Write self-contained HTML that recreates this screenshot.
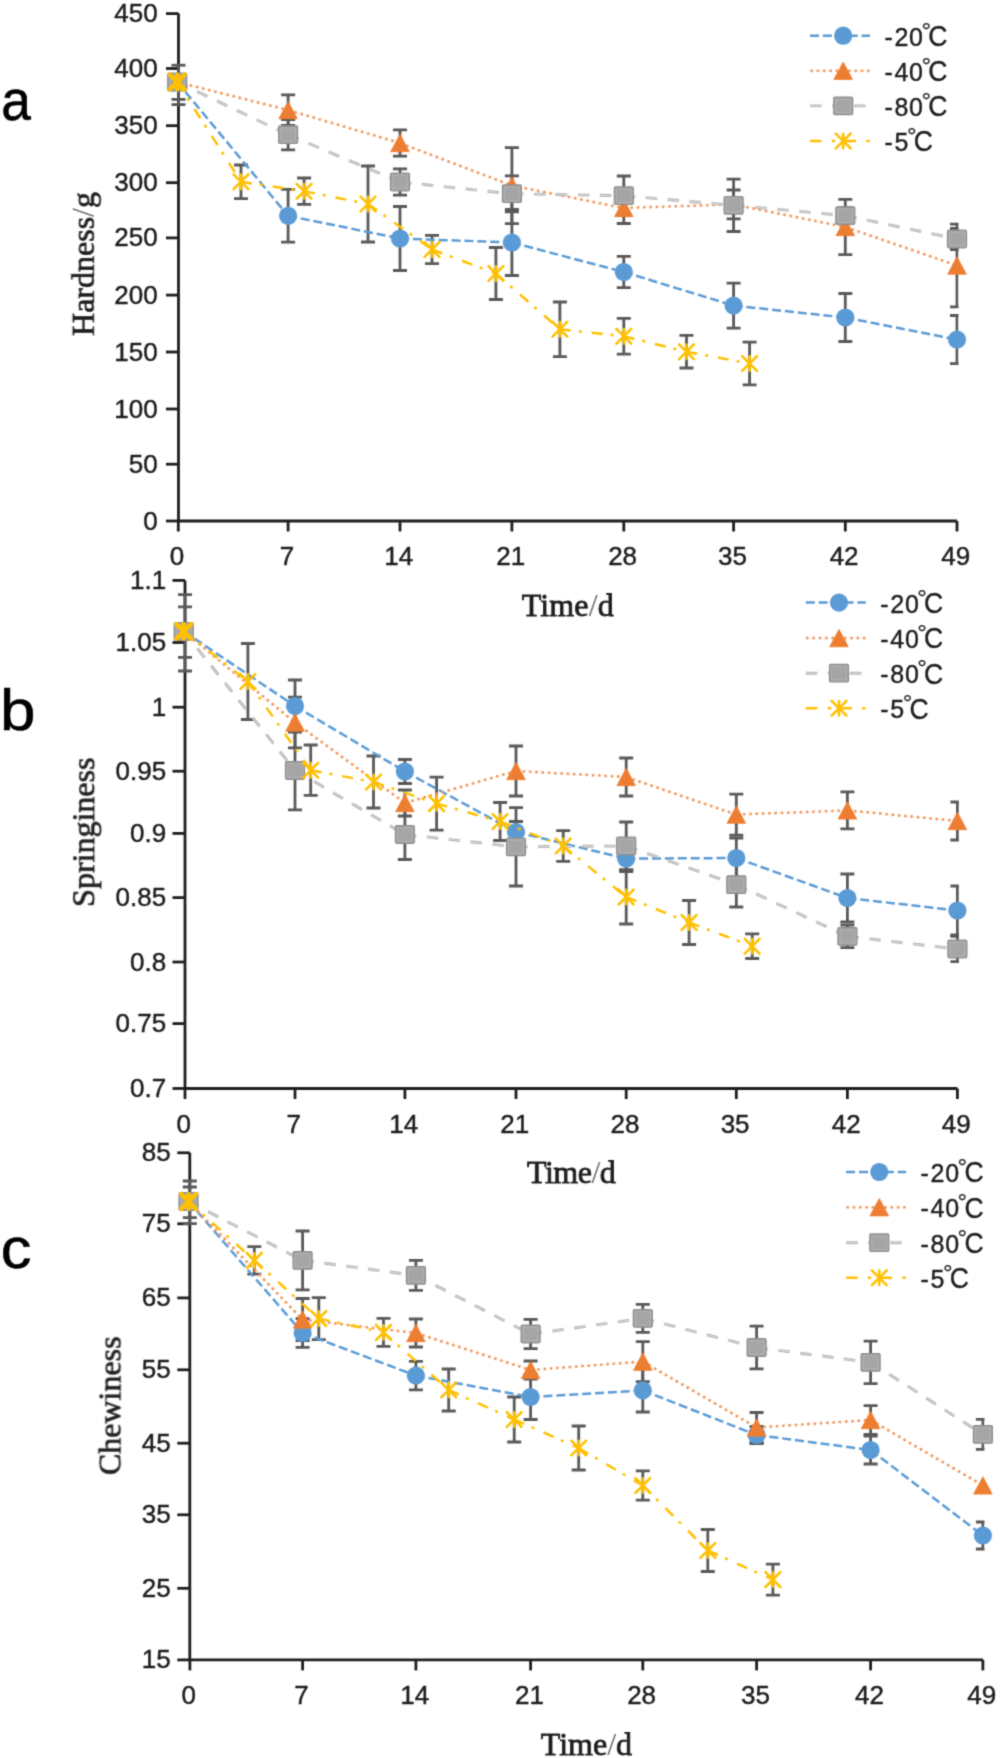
<!DOCTYPE html><html><head><meta charset="utf-8"><style>html,body{margin:0;padding:0;background:#fff;}svg{display:block;}</style></head><body><svg width="1000" height="1758" viewBox="0 0 1000 1758">
<defs><filter id="soft" x="0" y="0" width="1000" height="1758" filterUnits="userSpaceOnUse" color-interpolation-filters="sRGB"><feConvolveMatrix order="3" kernelMatrix="0.06218 0.24935 0.06218 0.24935 1.00000 0.24935 0.06218 0.24935 0.06218" divisor="2.24611" edgeMode="duplicate"/></filter></defs>
<rect width="1000" height="1758" fill="#fff"/>
<g filter="url(#soft)">
<clipPath id="clipa"><rect x="0" y="-26.4" width="958.5" height="587.4"/></clipPath>
<g stroke="#1e1e1e" stroke-width="2.8" fill="none">
<path d="M178.5,13.6 V521.0 H957.0"/>
<path d="M166.0,13.6 H178.5"/>
<path d="M166.0,68.5 H178.5"/>
<path d="M166.0,125.7 H178.5"/>
<path d="M166.0,182.7 H178.5"/>
<path d="M166.0,237.9 H178.5"/>
<path d="M166.0,295.1 H178.5"/>
<path d="M166.0,352.0 H178.5"/>
<path d="M166.0,409.0 H178.5"/>
<path d="M166.0,464.2 H178.5"/>
<path d="M166.0,521.0 H178.5"/>
<path d="M178.3,521.0 V531.5"/>
<path d="M288.1,521.0 V531.5"/>
<path d="M400.0,521.0 V531.5"/>
<path d="M511.9,521.0 V531.5"/>
<path d="M623.8,521.0 V531.5"/>
<path d="M733.6,521.0 V531.5"/>
<path d="M845.3,521.0 V531.5"/>
<path d="M957.0,521.0 V531.5"/>
</g>
<g font-family="Liberation Sans, sans-serif" font-size="26" fill="#1e1e1e" stroke="#1e1e1e" stroke-width="0.45">
<text x="157.7" y="22.1" text-anchor="end">450</text>
<text x="157.7" y="77.0" text-anchor="end">400</text>
<text x="157.7" y="134.2" text-anchor="end">350</text>
<text x="157.7" y="191.2" text-anchor="end">300</text>
<text x="157.7" y="246.4" text-anchor="end">250</text>
<text x="157.7" y="303.6" text-anchor="end">200</text>
<text x="157.7" y="360.5" text-anchor="end">150</text>
<text x="157.7" y="417.5" text-anchor="end">100</text>
<text x="157.7" y="472.7" text-anchor="end">50</text>
<text x="157.7" y="529.5" text-anchor="end">0</text>
<text x="177.1" y="565.3" text-anchor="middle">0</text>
<text x="286.9" y="565.3" text-anchor="middle">7</text>
<text x="398.8" y="565.3" text-anchor="middle">14</text>
<text x="510.7" y="565.3" text-anchor="middle">21</text>
<text x="622.6" y="565.3" text-anchor="middle">28</text>
<text x="732.4" y="565.3" text-anchor="middle">35</text>
<text x="844.1" y="565.3" text-anchor="middle">42</text>
<text x="955.8" y="565.3" text-anchor="middle">49</text>
</g>
<text x="567.8" y="616.2" text-anchor="middle" font-family="Liberation Serif, serif" font-size="32" fill="#1e1e1e" stroke="#1e1e1e" stroke-width="0.8" letter-spacing="0.15">Time<tspan fill="#6a6a6a" stroke="none">/</tspan>d</text>
<text transform="translate(93.8,264.0) rotate(-90)" text-anchor="middle" font-family="Liberation Serif, serif" font-size="32" fill="#1e1e1e" stroke="#1e1e1e" stroke-width="0.7">Hardness<tspan fill="#6a6a6a" stroke="none">/</tspan>g</text>
<text transform="translate(1.20,119.7) scale(0.92,1)" font-family="Liberation Sans, sans-serif" font-size="58" fill="#000" stroke="#000" stroke-width="0.6">a</text>
<g clip-path="url(#clipa)" stroke="#595959" stroke-width="2.8" fill="none">
<path d="M178.5,65.2 V104.6"/>
<path d="M171.5,65.2 H185.5"/>
<path d="M171.5,99.4 H185.5"/>
<path d="M171.5,104.6 H185.5"/>
<path d="M288.1,189.4 V242.2 M281.1,189.4 H295.1 M281.1,242.2 H295.1"/>
<path d="M400.0,206.5 V270.5 M393.0,206.5 H407.0 M393.0,270.5 H407.0"/>
<path d="M511.9,209.5 V275.5 M504.9,209.5 H518.9 M504.9,275.5 H518.9"/>
<path d="M623.8,256.4 V287.6 M616.8,256.4 H630.8 M616.8,287.6 H630.8"/>
<path d="M733.6,283.1 V328.1 M726.6,283.1 H740.6 M726.6,328.1 H740.6"/>
<path d="M845.3,293.5 V341.5 M838.3,293.5 H852.3 M838.3,341.5 H852.3"/>
<path d="M957.0,315.5 V363.7 M950.0,315.5 H964.0 M950.0,363.7 H964.0"/>
<path d="M288.1,94.8 V125.4 M281.1,94.8 H295.1 M281.1,125.4 H295.1"/>
<path d="M400.0,129.8 V156.2 M393.0,129.8 H407.0 M393.0,156.2 H407.0"/>
<path d="M511.9,147.6 V223.6 M504.9,147.6 H518.9 M504.9,223.6 H518.9"/>
<path d="M623.8,192.5 V223.5 M616.8,192.5 H630.8 M616.8,223.5 H630.8"/>
<path d="M733.6,190.0 V218.8 M726.6,190.0 H740.6 M726.6,218.8 H740.6"/>
<path d="M845.3,199.4 V254.6 M838.3,199.4 H852.3 M838.3,254.6 H852.3"/>
<path d="M957.0,224.2 V306.8 M950.0,224.2 H964.0 M950.0,306.8 H964.0"/>
<path d="M288.1,119.5 V149.9 M281.1,119.5 H295.1 M281.1,149.9 H295.1"/>
<path d="M400.0,168.8 V195.2 M393.0,168.8 H407.0 M393.0,195.2 H407.0"/>
<path d="M511.9,175.8 V211.8 M504.9,175.8 H518.9 M504.9,211.8 H518.9"/>
<path d="M623.8,176.0 V215.4 M616.8,176.0 H630.8 M616.8,215.4 H630.8"/>
<path d="M733.6,179.1 V231.5 M726.6,179.1 H740.6 M726.6,231.5 H740.6"/>
<path d="M845.3,207.6 V223.6 M838.3,207.6 H852.3 M838.3,223.6 H852.3"/>
<path d="M957.0,228.5 V249.5 M950.0,228.5 H964.0 M950.0,249.5 H964.0"/>
<path d="M241.0,165.0 V198.6 M234.0,165.0 H248.0 M234.0,198.6 H248.0"/>
<path d="M304.1,178.0 V204.4 M297.1,178.0 H311.1 M297.1,204.4 H311.1"/>
<path d="M368.0,166.0 V242.0 M361.0,166.0 H375.0 M361.0,242.0 H375.0"/>
<path d="M432.0,235.4 V263.6 M425.0,235.4 H439.0 M425.0,263.6 H439.0"/>
<path d="M495.9,247.5 V299.5 M488.9,247.5 H502.9 M488.9,299.5 H502.9"/>
<path d="M559.9,302.0 V356.6 M552.9,302.0 H566.9 M552.9,356.6 H566.9"/>
<path d="M623.8,318.4 V354.2 M616.8,318.4 H630.8 M616.8,354.2 H630.8"/>
<path d="M686.5,335.4 V368.0 M679.5,335.4 H693.5 M679.5,368.0 H693.5"/>
<path d="M749.6,342.2 V384.8 M742.6,342.2 H756.6 M742.6,384.8 H756.6"/>
</g>
<path d="M177.2,82.0 L288.1,215.8 M288.1,215.8 L400.0,238.5 M400.0,238.5 L511.9,242.5 M511.9,242.5 L623.8,272.0 M623.8,272.0 L733.6,305.6 M733.6,305.6 L845.3,317.5 M845.3,317.5 L957.0,339.6" fill="none" stroke="#5B9BD5" stroke-width="2.5" stroke-dasharray="9 3.9"/>
<circle cx="177.2" cy="82.0" r="9.1" fill="#5B9BD5"/>
<circle cx="288.1" cy="215.8" r="9.1" fill="#5B9BD5"/>
<circle cx="400.0" cy="238.5" r="9.1" fill="#5B9BD5"/>
<circle cx="511.9" cy="242.5" r="9.1" fill="#5B9BD5"/>
<circle cx="623.8" cy="272.0" r="9.1" fill="#5B9BD5"/>
<circle cx="733.6" cy="305.6" r="9.1" fill="#5B9BD5"/>
<circle cx="845.3" cy="317.5" r="9.1" fill="#5B9BD5"/>
<circle cx="957.0" cy="339.6" r="9.1" fill="#5B9BD5"/>
<path d="M177.2,82.0 L288.1,110.1 M288.1,110.1 L400.0,143.0 M400.0,143.0 L511.9,185.6 M511.9,185.6 L623.8,208.0 M623.8,208.0 L733.6,204.4 M733.6,204.4 L845.3,227.0 M845.3,227.0 L957.0,265.5" fill="none" stroke="#F29A60" stroke-width="3.0" stroke-dasharray="0.01 6.29" stroke-linecap="round" stroke-dashoffset="-1.6"/>
<path d="M177.2,73.3 L186.5,90.7 L167.9,90.7Z" fill="#ED7D31" stroke="#ED7D31" stroke-width="0.8" stroke-linejoin="round"/>
<path d="M288.1,101.4 L297.4,118.8 L278.8,118.8Z" fill="#ED7D31" stroke="#ED7D31" stroke-width="0.8" stroke-linejoin="round"/>
<path d="M400.0,134.3 L409.3,151.7 L390.7,151.7Z" fill="#ED7D31" stroke="#ED7D31" stroke-width="0.8" stroke-linejoin="round"/>
<path d="M511.9,176.9 L521.2,194.3 L502.6,194.3Z" fill="#ED7D31" stroke="#ED7D31" stroke-width="0.8" stroke-linejoin="round"/>
<path d="M623.8,199.3 L633.1,216.7 L614.5,216.7Z" fill="#ED7D31" stroke="#ED7D31" stroke-width="0.8" stroke-linejoin="round"/>
<path d="M733.6,195.7 L742.9,213.1 L724.3,213.1Z" fill="#ED7D31" stroke="#ED7D31" stroke-width="0.8" stroke-linejoin="round"/>
<path d="M845.3,218.3 L854.6,235.7 L836.0,235.7Z" fill="#ED7D31" stroke="#ED7D31" stroke-width="0.8" stroke-linejoin="round"/>
<path d="M957.0,256.8 L966.3,274.2 L947.7,274.2Z" fill="#ED7D31" stroke="#ED7D31" stroke-width="0.8" stroke-linejoin="round"/>
<path d="M177.2,82.0 L288.1,134.7 M288.1,134.7 L400.0,182.0 M400.0,182.0 L511.9,193.8 M511.9,193.8 L623.8,195.7 M623.8,195.7 L733.6,205.3 M733.6,205.3 L845.3,215.6 M845.3,215.6 L957.0,239.0" fill="none" stroke="#b2b2b2" stroke-width="2.9" stroke-dasharray="11.5 10.5"/><path d="M177.2,82.0 L288.1,134.7 M288.1,134.7 L400.0,182.0 M400.0,182.0 L511.9,193.8 M511.9,193.8 L623.8,195.7 M623.8,195.7 L733.6,205.3 M733.6,205.3 L845.3,215.6 M845.3,215.6 L957.0,239.0" fill="none" stroke="#dedede" stroke-width="1.0" stroke-dasharray="11.5 10.5"/>
<rect x="167.7" y="73.2" width="19.0" height="17.6" rx="1.2" fill="#A5A5A5" stroke="#8e8e8e" stroke-width="1.2"/><rect x="169.9" y="75.4" width="14.6" height="13.2" fill="none" stroke="#b4b4b4" stroke-width="0.8"/>
<rect x="278.6" y="125.9" width="19.0" height="17.6" rx="1.2" fill="#A5A5A5" stroke="#8e8e8e" stroke-width="1.2"/><rect x="280.8" y="128.1" width="14.6" height="13.2" fill="none" stroke="#b4b4b4" stroke-width="0.8"/>
<rect x="390.5" y="173.2" width="19.0" height="17.6" rx="1.2" fill="#A5A5A5" stroke="#8e8e8e" stroke-width="1.2"/><rect x="392.7" y="175.4" width="14.6" height="13.2" fill="none" stroke="#b4b4b4" stroke-width="0.8"/>
<rect x="502.4" y="184.9" width="19.0" height="17.6" rx="1.2" fill="#A5A5A5" stroke="#8e8e8e" stroke-width="1.2"/><rect x="504.6" y="187.1" width="14.6" height="13.2" fill="none" stroke="#b4b4b4" stroke-width="0.8"/>
<rect x="614.3" y="186.9" width="19.0" height="17.6" rx="1.2" fill="#A5A5A5" stroke="#8e8e8e" stroke-width="1.2"/><rect x="616.5" y="189.1" width="14.6" height="13.2" fill="none" stroke="#b4b4b4" stroke-width="0.8"/>
<rect x="724.1" y="196.5" width="19.0" height="17.6" rx="1.2" fill="#A5A5A5" stroke="#8e8e8e" stroke-width="1.2"/><rect x="726.3" y="198.7" width="14.6" height="13.2" fill="none" stroke="#b4b4b4" stroke-width="0.8"/>
<rect x="835.8" y="206.8" width="19.0" height="17.6" rx="1.2" fill="#A5A5A5" stroke="#8e8e8e" stroke-width="1.2"/><rect x="838.0" y="209.0" width="14.6" height="13.2" fill="none" stroke="#b4b4b4" stroke-width="0.8"/>
<rect x="947.5" y="230.2" width="19.0" height="17.6" rx="1.2" fill="#A5A5A5" stroke="#8e8e8e" stroke-width="1.2"/><rect x="949.7" y="232.4" width="14.6" height="13.2" fill="none" stroke="#b4b4b4" stroke-width="0.8"/>
<path d="M177.2,82.0 L241.0,181.8 M241.0,181.8 L304.1,191.2 M304.1,191.2 L368.0,204.0 M368.0,204.0 L432.0,249.5 M432.0,249.5 L495.9,273.5 M495.9,273.5 L559.9,329.3 M559.9,329.3 L623.8,336.3 M623.8,336.3 L686.5,351.7 M686.5,351.7 L749.6,363.5" fill="none" stroke="#FFC000" stroke-width="2.5" stroke-dasharray="11 8 3 10"/>
<path d="M169.8,74.6 L184.6,89.4 M184.6,74.6 L169.8,89.4 M177.2,74.8 L177.2,89.2" stroke="#FFC000" stroke-width="4.4" stroke-linecap="round" fill="none"/>
<path d="M233.6,174.4 L248.4,189.2 M248.4,174.4 L233.6,189.2 M241.0,174.6 L241.0,189.0" stroke="#FFC000" stroke-width="2.6" stroke-linecap="round" fill="none"/>
<path d="M296.7,183.8 L311.5,198.6 M311.5,183.8 L296.7,198.6 M304.1,184.0 L304.1,198.4" stroke="#FFC000" stroke-width="2.6" stroke-linecap="round" fill="none"/>
<path d="M360.6,196.6 L375.4,211.4 M375.4,196.6 L360.6,211.4 M368.0,196.8 L368.0,211.2" stroke="#FFC000" stroke-width="2.6" stroke-linecap="round" fill="none"/>
<path d="M424.6,242.1 L439.4,256.9 M439.4,242.1 L424.6,256.9 M432.0,242.3 L432.0,256.7" stroke="#FFC000" stroke-width="2.6" stroke-linecap="round" fill="none"/>
<path d="M488.5,266.1 L503.3,280.9 M503.3,266.1 L488.5,280.9 M495.9,266.3 L495.9,280.7" stroke="#FFC000" stroke-width="2.6" stroke-linecap="round" fill="none"/>
<path d="M552.5,321.9 L567.3,336.7 M567.3,321.9 L552.5,336.7 M559.9,322.1 L559.9,336.5" stroke="#FFC000" stroke-width="2.6" stroke-linecap="round" fill="none"/>
<path d="M616.4,328.9 L631.2,343.7 M631.2,328.9 L616.4,343.7 M623.8,329.1 L623.8,343.5" stroke="#FFC000" stroke-width="2.6" stroke-linecap="round" fill="none"/>
<path d="M679.1,344.3 L693.9,359.1 M693.9,344.3 L679.1,359.1 M686.5,344.5 L686.5,358.9" stroke="#FFC000" stroke-width="2.6" stroke-linecap="round" fill="none"/>
<path d="M742.2,356.1 L757.0,370.9 M757.0,356.1 L742.2,370.9 M749.6,356.3 L749.6,370.7" stroke="#FFC000" stroke-width="2.6" stroke-linecap="round" fill="none"/>
<path d="M810.0,35.7 H870.0" fill="none" stroke="#5B9BD5" stroke-width="2.5" stroke-dasharray="9 3.9"/>
<circle cx="843.2" cy="35.7" r="9.1" fill="#5B9BD5"/>
<g font-family="Liberation Sans, sans-serif" fill="#1e1e1e" stroke="#1e1e1e" stroke-width="0.4"><text x="884.5 894.5 909.1" y="45.6" font-size="25">-20</text><text x="921.5" y="38.8" font-size="24" stroke-width="0.2">°</text><text transform="translate(928.3,46.0) scale(0.89,1)" font-size="29.8">C</text></g>
<path d="M810.0,70.8 H870.0" fill="none" stroke="#F29A60" stroke-width="3.0" stroke-dasharray="0.01 6.29" stroke-linecap="round" stroke-dashoffset="-1.6"/>
<path d="M843.2,62.1 L852.5,79.5 L833.9,79.5Z" fill="#ED7D31" stroke="#ED7D31" stroke-width="0.8" stroke-linejoin="round"/>
<g font-family="Liberation Sans, sans-serif" fill="#1e1e1e" stroke="#1e1e1e" stroke-width="0.4"><text x="884.5 894.5 909.1" y="80.7" font-size="25">-40</text><text x="921.5" y="73.9" font-size="24" stroke-width="0.2">°</text><text transform="translate(928.3,81.1) scale(0.89,1)" font-size="29.8">C</text></g>
<path d="M810.0,105.9 H870.0" fill="none" stroke="#b2b2b2" stroke-width="2.9" stroke-dasharray="11.5 10.5"/><path d="M810.0,105.9 H870.0" fill="none" stroke="#dedede" stroke-width="1.0" stroke-dasharray="11.5 10.5"/>
<rect x="833.7" y="97.1" width="19.0" height="17.6" rx="1.2" fill="#A5A5A5" stroke="#8e8e8e" stroke-width="1.2"/><rect x="835.9" y="99.3" width="14.6" height="13.2" fill="none" stroke="#b4b4b4" stroke-width="0.8"/>
<g font-family="Liberation Sans, sans-serif" fill="#1e1e1e" stroke="#1e1e1e" stroke-width="0.4"><text x="884.5 894.5 909.1" y="115.8" font-size="25">-80</text><text x="921.5" y="109.0" font-size="24" stroke-width="0.2">°</text><text transform="translate(928.3,116.2) scale(0.89,1)" font-size="29.8">C</text></g>
<path d="M810.0,141.0 H870.0" fill="none" stroke="#FFC000" stroke-width="2.5" stroke-dasharray="11.5 10.3 3.4 9.3"/>
<path d="M835.8,133.6 L850.6,148.4 M850.6,133.6 L835.8,148.4 M843.2,133.8 L843.2,148.2" stroke="#FFC000" stroke-width="2.6" stroke-linecap="round" fill="none"/>
<g font-family="Liberation Sans, sans-serif" fill="#1e1e1e" stroke="#1e1e1e" stroke-width="0.4"><text x="884.5 894.5" y="150.9" font-size="25">-5</text><text x="906.9" y="144.1" font-size="24" stroke-width="0.2">°</text><text transform="translate(913.7,151.3) scale(0.89,1)" font-size="29.8">C</text></g>
<clipPath id="clipb"><rect x="0" y="540.4" width="958.9" height="588.1"/></clipPath>
<g stroke="#1e1e1e" stroke-width="2.8" fill="none">
<path d="M185.0,580.4 V1088.5 H957.4"/>
<path d="M172.5,580.4 H185.0"/>
<path d="M172.5,642.5 H185.0"/>
<path d="M172.5,707.2 H185.0"/>
<path d="M172.5,771.2 H185.0"/>
<path d="M172.5,833.4 H185.0"/>
<path d="M172.5,897.6 H185.0"/>
<path d="M172.5,962.0 H185.0"/>
<path d="M172.5,1023.6 H185.0"/>
<path d="M172.5,1088.5 H185.0"/>
<path d="M185.0,1088.5 V1099.0"/>
<path d="M295.0,1088.5 V1099.0"/>
<path d="M404.9,1088.5 V1099.0"/>
<path d="M516.0,1088.5 V1099.0"/>
<path d="M626.2,1088.5 V1099.0"/>
<path d="M736.3,1088.5 V1099.0"/>
<path d="M847.4,1088.5 V1099.0"/>
<path d="M957.4,1088.5 V1099.0"/>
</g>
<g font-family="Liberation Sans, sans-serif" font-size="26" fill="#1e1e1e" stroke="#1e1e1e" stroke-width="0.45">
<text x="166.2" y="588.9" text-anchor="end">1.1</text>
<text x="166.2" y="651.0" text-anchor="end">1.05</text>
<text x="166.2" y="715.7" text-anchor="end">1</text>
<text x="166.2" y="779.7" text-anchor="end">0.95</text>
<text x="166.2" y="841.9" text-anchor="end">0.9</text>
<text x="166.2" y="906.1" text-anchor="end">0.85</text>
<text x="166.2" y="970.5" text-anchor="end">0.8</text>
<text x="166.2" y="1032.1" text-anchor="end">0.75</text>
<text x="166.2" y="1097.0" text-anchor="end">0.7</text>
<text x="183.8" y="1132.8" text-anchor="middle">0</text>
<text x="293.8" y="1132.8" text-anchor="middle">7</text>
<text x="403.7" y="1132.8" text-anchor="middle">14</text>
<text x="514.8" y="1132.8" text-anchor="middle">21</text>
<text x="625.0" y="1132.8" text-anchor="middle">28</text>
<text x="735.1" y="1132.8" text-anchor="middle">35</text>
<text x="846.2" y="1132.8" text-anchor="middle">42</text>
<text x="956.2" y="1132.8" text-anchor="middle">49</text>
</g>
<text x="571.2" y="1183.2" text-anchor="middle" font-family="Liberation Serif, serif" font-size="32" fill="#1e1e1e" stroke="#1e1e1e" stroke-width="0.8" letter-spacing="-0.5">Time<tspan fill="#6a6a6a" stroke="none">/</tspan>d</text>
<text transform="translate(94.2,832.2) rotate(-90)" text-anchor="middle" font-family="Liberation Serif, serif" font-size="32" fill="#1e1e1e" stroke="#1e1e1e" stroke-width="0.7">Springiness</text>
<text transform="translate(0.10,729.8) scale(1.1,1)" font-family="Liberation Sans, sans-serif" font-size="58" fill="#000" stroke="#000" stroke-width="0.6">b</text>
<g clip-path="url(#clipb)" stroke="#595959" stroke-width="2.8" fill="none">
<path d="M185.0,594.6 V671.0"/>
<path d="M178.0,594.6 H192.0"/>
<path d="M178.0,606.9 H192.0"/>
<path d="M178.0,657.3 H192.0"/>
<path d="M178.0,671.0 H192.0"/>
<path d="M295.0,680.0 V732.0 M288.0,680.0 H302.0 M288.0,732.0 H302.0"/>
<path d="M404.9,759.5 V783.5 M397.9,759.5 H411.9 M397.9,783.5 H411.9"/>
<path d="M516.0,821.5 V842.5 M509.0,821.5 H523.0 M509.0,842.5 H523.0"/>
<path d="M626.2,845.6 V871.6 M619.2,845.6 H633.2 M619.2,871.6 H633.2"/>
<path d="M736.3,838.0 V878.0 M729.3,838.0 H743.3 M729.3,878.0 H743.3"/>
<path d="M847.4,874.0 V922.0 M840.4,874.0 H854.4 M840.4,922.0 H854.4"/>
<path d="M957.4,886.0 V935.0 M950.4,886.0 H964.4 M950.4,935.0 H964.4"/>
<path d="M295.0,697.2 V747.8 M288.0,697.2 H302.0 M288.0,747.8 H302.0"/>
<path d="M404.9,790.0 V816.0 M397.9,790.0 H411.9 M397.9,816.0 H411.9"/>
<path d="M516.0,746.0 V796.0 M509.0,746.0 H523.0 M509.0,796.0 H523.0"/>
<path d="M626.2,758.0 V796.0 M619.2,758.0 H633.2 M619.2,796.0 H633.2"/>
<path d="M736.3,794.1 V835.1 M729.3,794.1 H743.3 M729.3,835.1 H743.3"/>
<path d="M847.4,791.9 V828.9 M840.4,791.9 H854.4 M840.4,828.9 H854.4"/>
<path d="M957.4,802.0 V840.0 M950.4,802.0 H964.4 M950.4,840.0 H964.4"/>
<path d="M295.0,731.1 V809.9 M288.0,731.1 H302.0 M288.0,809.9 H302.0"/>
<path d="M404.9,809.5 V859.5 M397.9,809.5 H411.9 M397.9,859.5 H411.9"/>
<path d="M516.0,807.6 V886.0 M509.0,807.6 H523.0 M509.0,886.0 H523.0"/>
<path d="M626.2,822.0 V870.0 M619.2,822.0 H633.2 M619.2,870.0 H633.2"/>
<path d="M736.3,862.2 V907.0 M729.3,862.2 H743.3 M729.3,907.0 H743.3"/>
<path d="M847.4,925.2 V947.6 M840.4,925.2 H854.4 M840.4,947.6 H854.4"/>
<path d="M957.4,936.4 V961.6 M950.4,936.4 H964.4 M950.4,961.6 H964.4"/>
<path d="M247.9,643.5 V719.5 M240.9,643.5 H254.9 M240.9,719.5 H254.9"/>
<path d="M310.7,745.0 V795.4 M303.7,745.0 H317.7 M303.7,795.4 H317.7"/>
<path d="M373.5,756.0 V808.0 M366.5,756.0 H380.5 M366.5,808.0 H380.5"/>
<path d="M436.6,777.1 V830.1 M429.6,777.1 H443.6 M429.6,830.1 H443.6"/>
<path d="M500.1,802.5 V840.5 M493.1,802.5 H507.1 M493.1,840.5 H507.1"/>
<path d="M563.2,830.7 V861.3 M556.2,830.7 H570.2 M556.2,861.3 H570.2"/>
<path d="M626.2,870.0 V924.0 M619.2,870.0 H633.2 M619.2,924.0 H633.2"/>
<path d="M689.1,900.5 V944.5 M682.1,900.5 H696.1 M682.1,944.5 H696.1"/>
<path d="M752.2,933.9 V958.5 M745.2,933.9 H759.2 M745.2,958.5 H759.2"/>
</g>
<path d="M183.7,631.4 L295.0,706.0 M295.0,706.0 L404.9,771.5 M404.9,771.5 L516.0,832.0 M516.0,832.0 L626.2,858.6 M626.2,858.6 L736.3,858.0 M736.3,858.0 L847.4,898.0 M847.4,898.0 L957.4,910.5" fill="none" stroke="#5B9BD5" stroke-width="2.5" stroke-dasharray="9 3.9"/>
<circle cx="183.7" cy="631.4" r="9.1" fill="#5B9BD5"/>
<circle cx="295.0" cy="706.0" r="9.1" fill="#5B9BD5"/>
<circle cx="404.9" cy="771.5" r="9.1" fill="#5B9BD5"/>
<circle cx="516.0" cy="832.0" r="9.1" fill="#5B9BD5"/>
<circle cx="626.2" cy="858.6" r="9.1" fill="#5B9BD5"/>
<circle cx="736.3" cy="858.0" r="9.1" fill="#5B9BD5"/>
<circle cx="847.4" cy="898.0" r="9.1" fill="#5B9BD5"/>
<circle cx="957.4" cy="910.5" r="9.1" fill="#5B9BD5"/>
<path d="M183.7,631.4 L295.0,722.5 M295.0,722.5 L404.9,803.0 M404.9,803.0 L516.0,771.0 M516.0,771.0 L626.2,777.0 M626.2,777.0 L736.3,814.6 M736.3,814.6 L847.4,810.4 M847.4,810.4 L957.4,821.0" fill="none" stroke="#F29A60" stroke-width="3.0" stroke-dasharray="0.01 6.29" stroke-linecap="round" stroke-dashoffset="-1.6"/>
<path d="M183.7,622.7 L193.0,640.1 L174.4,640.1Z" fill="#ED7D31" stroke="#ED7D31" stroke-width="0.8" stroke-linejoin="round"/>
<path d="M295.0,713.8 L304.3,731.2 L285.7,731.2Z" fill="#ED7D31" stroke="#ED7D31" stroke-width="0.8" stroke-linejoin="round"/>
<path d="M404.9,794.3 L414.2,811.7 L395.6,811.7Z" fill="#ED7D31" stroke="#ED7D31" stroke-width="0.8" stroke-linejoin="round"/>
<path d="M516.0,762.3 L525.3,779.7 L506.7,779.7Z" fill="#ED7D31" stroke="#ED7D31" stroke-width="0.8" stroke-linejoin="round"/>
<path d="M626.2,768.3 L635.5,785.7 L616.9,785.7Z" fill="#ED7D31" stroke="#ED7D31" stroke-width="0.8" stroke-linejoin="round"/>
<path d="M736.3,805.9 L745.6,823.3 L727.0,823.3Z" fill="#ED7D31" stroke="#ED7D31" stroke-width="0.8" stroke-linejoin="round"/>
<path d="M847.4,801.7 L856.7,819.1 L838.1,819.1Z" fill="#ED7D31" stroke="#ED7D31" stroke-width="0.8" stroke-linejoin="round"/>
<path d="M957.4,812.3 L966.7,829.7 L948.1,829.7Z" fill="#ED7D31" stroke="#ED7D31" stroke-width="0.8" stroke-linejoin="round"/>
<path d="M183.7,631.4 L295.0,770.5 M295.0,770.5 L404.9,834.5 M404.9,834.5 L516.0,846.8 M516.0,846.8 L626.2,846.0 M626.2,846.0 L736.3,884.6 M736.3,884.6 L847.4,936.4 M847.4,936.4 L957.4,949.0" fill="none" stroke="#b2b2b2" stroke-width="2.9" stroke-dasharray="11.5 10.5"/><path d="M183.7,631.4 L295.0,770.5 M295.0,770.5 L404.9,834.5 M404.9,834.5 L516.0,846.8 M516.0,846.8 L626.2,846.0 M626.2,846.0 L736.3,884.6 M736.3,884.6 L847.4,936.4 M847.4,936.4 L957.4,949.0" fill="none" stroke="#dedede" stroke-width="1.0" stroke-dasharray="11.5 10.5"/>
<rect x="174.2" y="622.6" width="19.0" height="17.6" rx="1.2" fill="#A5A5A5" stroke="#8e8e8e" stroke-width="1.2"/><rect x="176.4" y="624.8" width="14.6" height="13.2" fill="none" stroke="#b4b4b4" stroke-width="0.8"/>
<rect x="285.5" y="761.7" width="19.0" height="17.6" rx="1.2" fill="#A5A5A5" stroke="#8e8e8e" stroke-width="1.2"/><rect x="287.7" y="763.9" width="14.6" height="13.2" fill="none" stroke="#b4b4b4" stroke-width="0.8"/>
<rect x="395.4" y="825.7" width="19.0" height="17.6" rx="1.2" fill="#A5A5A5" stroke="#8e8e8e" stroke-width="1.2"/><rect x="397.6" y="827.9" width="14.6" height="13.2" fill="none" stroke="#b4b4b4" stroke-width="0.8"/>
<rect x="506.5" y="838.0" width="19.0" height="17.6" rx="1.2" fill="#A5A5A5" stroke="#8e8e8e" stroke-width="1.2"/><rect x="508.7" y="840.2" width="14.6" height="13.2" fill="none" stroke="#b4b4b4" stroke-width="0.8"/>
<rect x="616.7" y="837.2" width="19.0" height="17.6" rx="1.2" fill="#A5A5A5" stroke="#8e8e8e" stroke-width="1.2"/><rect x="618.9" y="839.4" width="14.6" height="13.2" fill="none" stroke="#b4b4b4" stroke-width="0.8"/>
<rect x="726.8" y="875.8" width="19.0" height="17.6" rx="1.2" fill="#A5A5A5" stroke="#8e8e8e" stroke-width="1.2"/><rect x="729.0" y="878.0" width="14.6" height="13.2" fill="none" stroke="#b4b4b4" stroke-width="0.8"/>
<rect x="837.9" y="927.6" width="19.0" height="17.6" rx="1.2" fill="#A5A5A5" stroke="#8e8e8e" stroke-width="1.2"/><rect x="840.1" y="929.8" width="14.6" height="13.2" fill="none" stroke="#b4b4b4" stroke-width="0.8"/>
<rect x="947.9" y="940.2" width="19.0" height="17.6" rx="1.2" fill="#A5A5A5" stroke="#8e8e8e" stroke-width="1.2"/><rect x="950.1" y="942.4" width="14.6" height="13.2" fill="none" stroke="#b4b4b4" stroke-width="0.8"/>
<path d="M183.7,631.4 L247.9,681.5 M247.9,681.5 L310.7,770.2 M310.7,770.2 L373.5,782.0 M373.5,782.0 L436.6,803.6 M436.6,803.6 L500.1,821.5 M500.1,821.5 L563.2,846.0 M563.2,846.0 L626.2,897.0 M626.2,897.0 L689.1,922.5 M689.1,922.5 L752.2,946.2" fill="none" stroke="#FFC000" stroke-width="2.5" stroke-dasharray="11 8 3 10"/>
<path d="M176.3,624.0 L191.1,638.8 M191.1,624.0 L176.3,638.8 M183.7,624.2 L183.7,638.6" stroke="#FFC000" stroke-width="4.4" stroke-linecap="round" fill="none"/>
<path d="M240.5,674.1 L255.3,688.9 M255.3,674.1 L240.5,688.9 M247.9,674.3 L247.9,688.7" stroke="#FFC000" stroke-width="2.6" stroke-linecap="round" fill="none"/>
<path d="M303.3,762.8 L318.1,777.6 M318.1,762.8 L303.3,777.6 M310.7,763.0 L310.7,777.4" stroke="#FFC000" stroke-width="2.6" stroke-linecap="round" fill="none"/>
<path d="M366.1,774.6 L380.9,789.4 M380.9,774.6 L366.1,789.4 M373.5,774.8 L373.5,789.2" stroke="#FFC000" stroke-width="2.6" stroke-linecap="round" fill="none"/>
<path d="M429.2,796.2 L444.0,811.0 M444.0,796.2 L429.2,811.0 M436.6,796.4 L436.6,810.8" stroke="#FFC000" stroke-width="2.6" stroke-linecap="round" fill="none"/>
<path d="M492.7,814.1 L507.5,828.9 M507.5,814.1 L492.7,828.9 M500.1,814.3 L500.1,828.7" stroke="#FFC000" stroke-width="2.6" stroke-linecap="round" fill="none"/>
<path d="M555.8,838.6 L570.6,853.4 M570.6,838.6 L555.8,853.4 M563.2,838.8 L563.2,853.2" stroke="#FFC000" stroke-width="2.6" stroke-linecap="round" fill="none"/>
<path d="M618.8,889.6 L633.6,904.4 M633.6,889.6 L618.8,904.4 M626.2,889.8 L626.2,904.2" stroke="#FFC000" stroke-width="2.6" stroke-linecap="round" fill="none"/>
<path d="M681.7,915.1 L696.5,929.9 M696.5,915.1 L681.7,929.9 M689.1,915.3 L689.1,929.7" stroke="#FFC000" stroke-width="2.6" stroke-linecap="round" fill="none"/>
<path d="M744.8,938.8 L759.6,953.6 M759.6,938.8 L744.8,953.6 M752.2,939.0 L752.2,953.4" stroke="#FFC000" stroke-width="2.6" stroke-linecap="round" fill="none"/>
<path d="M805.8,602.6 H865.8" fill="none" stroke="#5B9BD5" stroke-width="2.5" stroke-dasharray="9 3.9"/>
<circle cx="839.0" cy="602.6" r="9.1" fill="#5B9BD5"/>
<g font-family="Liberation Sans, sans-serif" fill="#1e1e1e" stroke="#1e1e1e" stroke-width="0.4"><text x="880.3 890.3 904.9" y="612.5" font-size="25">-20</text><text x="917.3" y="605.7" font-size="24" stroke-width="0.2">°</text><text transform="translate(924.1,612.9) scale(0.89,1)" font-size="29.8">C</text></g>
<path d="M805.8,638.1 H865.8" fill="none" stroke="#F29A60" stroke-width="3.0" stroke-dasharray="0.01 6.29" stroke-linecap="round" stroke-dashoffset="-1.6"/>
<path d="M839.0,629.4 L848.3,646.8 L829.7,646.8Z" fill="#ED7D31" stroke="#ED7D31" stroke-width="0.8" stroke-linejoin="round"/>
<g font-family="Liberation Sans, sans-serif" fill="#1e1e1e" stroke="#1e1e1e" stroke-width="0.4"><text x="880.3 890.3 904.9" y="648.0" font-size="25">-40</text><text x="917.3" y="641.2" font-size="24" stroke-width="0.2">°</text><text transform="translate(924.1,648.4) scale(0.89,1)" font-size="29.8">C</text></g>
<path d="M805.8,673.2 H865.8" fill="none" stroke="#b2b2b2" stroke-width="2.9" stroke-dasharray="11.5 10.5"/><path d="M805.8,673.2 H865.8" fill="none" stroke="#dedede" stroke-width="1.0" stroke-dasharray="11.5 10.5"/>
<rect x="829.5" y="664.4" width="19.0" height="17.6" rx="1.2" fill="#A5A5A5" stroke="#8e8e8e" stroke-width="1.2"/><rect x="831.7" y="666.6" width="14.6" height="13.2" fill="none" stroke="#b4b4b4" stroke-width="0.8"/>
<g font-family="Liberation Sans, sans-serif" fill="#1e1e1e" stroke="#1e1e1e" stroke-width="0.4"><text x="880.3 890.3 904.9" y="683.1" font-size="25">-80</text><text x="917.3" y="676.3" font-size="24" stroke-width="0.2">°</text><text transform="translate(924.1,683.5) scale(0.89,1)" font-size="29.8">C</text></g>
<path d="M805.8,708.3 H865.8" fill="none" stroke="#FFC000" stroke-width="2.5" stroke-dasharray="11.5 10.3 3.4 9.3"/>
<path d="M831.6,700.9 L846.4,715.7 M846.4,700.9 L831.6,715.7 M839.0,701.1 L839.0,715.5" stroke="#FFC000" stroke-width="2.6" stroke-linecap="round" fill="none"/>
<g font-family="Liberation Sans, sans-serif" fill="#1e1e1e" stroke="#1e1e1e" stroke-width="0.4"><text x="880.3 890.3" y="718.2" font-size="25">-5</text><text x="902.7" y="711.4" font-size="24" stroke-width="0.2">°</text><text transform="translate(909.5,718.6) scale(0.89,1)" font-size="29.8">C</text></g>
<clipPath id="clipc"><rect x="0" y="1112.8" width="984.5" height="587.1000000000001"/></clipPath>
<g stroke="#1e1e1e" stroke-width="2.8" fill="none">
<path d="M189.8,1152.8 V1659.9 H983.0"/>
<path d="M177.3,1152.8 H189.8"/>
<path d="M177.3,1223.8 H189.8"/>
<path d="M177.3,1297.9 H189.8"/>
<path d="M177.3,1369.8 H189.8"/>
<path d="M177.3,1443.2 H189.8"/>
<path d="M177.3,1514.8 H189.8"/>
<path d="M177.3,1588.3 H189.8"/>
<path d="M177.3,1659.9 H189.8"/>
<path d="M189.9,1659.9 V1670.4"/>
<path d="M302.6,1659.9 V1670.4"/>
<path d="M415.9,1659.9 V1670.4"/>
<path d="M530.6,1659.9 V1670.4"/>
<path d="M642.8,1659.9 V1670.4"/>
<path d="M756.6,1659.9 V1670.4"/>
<path d="M870.6,1659.9 V1670.4"/>
<path d="M982.9,1659.9 V1670.4"/>
</g>
<g font-family="Liberation Sans, sans-serif" font-size="26" fill="#1e1e1e" stroke="#1e1e1e" stroke-width="0.45">
<text x="170.6" y="1161.3" text-anchor="end">85</text>
<text x="170.6" y="1232.3" text-anchor="end">75</text>
<text x="170.6" y="1306.4" text-anchor="end">65</text>
<text x="170.6" y="1378.3" text-anchor="end">55</text>
<text x="170.6" y="1451.7" text-anchor="end">45</text>
<text x="170.6" y="1523.3" text-anchor="end">35</text>
<text x="170.6" y="1596.8" text-anchor="end">25</text>
<text x="170.6" y="1668.4" text-anchor="end">15</text>
<text x="188.7" y="1704.2" text-anchor="middle">0</text>
<text x="301.4" y="1704.2" text-anchor="middle">7</text>
<text x="414.7" y="1704.2" text-anchor="middle">14</text>
<text x="529.4" y="1704.2" text-anchor="middle">21</text>
<text x="641.6" y="1704.2" text-anchor="middle">28</text>
<text x="755.4" y="1704.2" text-anchor="middle">35</text>
<text x="869.4" y="1704.2" text-anchor="middle">42</text>
<text x="981.7" y="1704.2" text-anchor="middle">49</text>
</g>
<text x="586.4" y="1755.0" text-anchor="middle" font-family="Liberation Serif, serif" font-size="32" fill="#1e1e1e" stroke="#1e1e1e" stroke-width="0.8" letter-spacing="0.0">Time<tspan fill="#6a6a6a" stroke="none">/</tspan>d</text>
<text transform="translate(120.5,1405.8) rotate(-90)" text-anchor="middle" font-family="Liberation Serif, serif" font-size="32" fill="#1e1e1e" stroke="#1e1e1e" stroke-width="0.7">Chewiness</text>
<text transform="translate(0.70,1267.5) scale(1.056,1)" font-family="Liberation Sans, sans-serif" font-size="58" fill="#000" stroke="#000" stroke-width="0.6">c</text>
<g clip-path="url(#clipc)" stroke="#595959" stroke-width="2.8" fill="none">
<path d="M189.8,1181.0 V1223.6"/>
<path d="M182.8,1181.0 H196.8"/>
<path d="M182.8,1187.0 H196.8"/>
<path d="M182.8,1217.7 H196.8"/>
<path d="M182.8,1223.6 H196.8"/>
<path d="M302.6,1318.6 V1347.4 M295.6,1318.6 H309.6 M295.6,1347.4 H309.6"/>
<path d="M415.9,1361.4 V1389.8 M408.9,1361.4 H422.9 M408.9,1389.8 H422.9"/>
<path d="M530.6,1374.5 V1419.5 M523.6,1374.5 H537.6 M523.6,1419.5 H537.6"/>
<path d="M642.8,1368.8 V1412.0 M635.8,1368.8 H649.8 M635.8,1412.0 H649.8"/>
<path d="M756.6,1426.5 V1443.5 M749.6,1426.5 H763.6 M749.6,1443.5 H763.6"/>
<path d="M870.6,1436.0 V1464.0 M863.6,1436.0 H877.6 M863.6,1464.0 H877.6"/>
<path d="M982.9,1522.0 V1549.0 M975.9,1522.0 H989.9 M975.9,1549.0 H989.9"/>
<path d="M302.6,1298.5 V1340.5 M295.6,1298.5 H309.6 M295.6,1340.5 H309.6"/>
<path d="M415.9,1319.0 V1347.0 M408.9,1319.0 H422.9 M408.9,1347.0 H422.9"/>
<path d="M530.6,1361.0 V1379.0 M523.6,1361.0 H537.6 M523.6,1379.0 H537.6"/>
<path d="M642.8,1341.6 V1381.6 M635.8,1341.6 H649.8 M635.8,1381.6 H649.8"/>
<path d="M756.6,1412.5 V1442.5 M749.6,1412.5 H763.6 M749.6,1442.5 H763.6"/>
<path d="M870.6,1405.6 V1434.4 M863.6,1405.6 H877.6 M863.6,1434.4 H877.6"/>
<path d="M302.6,1231.0 V1289.8 M295.6,1231.0 H309.6 M295.6,1289.8 H309.6"/>
<path d="M415.9,1260.4 V1290.4 M408.9,1260.4 H422.9 M408.9,1290.4 H422.9"/>
<path d="M530.6,1319.3 V1348.7 M523.6,1319.3 H537.6 M523.6,1348.7 H537.6"/>
<path d="M642.8,1304.4 V1332.4 M635.8,1304.4 H649.8 M635.8,1332.4 H649.8"/>
<path d="M756.6,1326.1 V1368.9 M749.6,1326.1 H763.6 M749.6,1368.9 H763.6"/>
<path d="M870.6,1341.1 V1383.7 M863.6,1341.1 H877.6 M863.6,1383.7 H877.6"/>
<path d="M982.9,1419.4 V1449.4 M975.9,1419.4 H989.9 M975.9,1449.4 H989.9"/>
<path d="M254.3,1246.6 V1274.2 M247.3,1246.6 H261.3 M247.3,1274.2 H261.3"/>
<path d="M318.8,1297.6 V1339.6 M311.8,1297.6 H325.8 M311.8,1339.6 H325.8"/>
<path d="M383.5,1318.4 V1346.4 M376.5,1318.4 H390.5 M376.5,1346.4 H390.5"/>
<path d="M448.7,1369.0 V1411.0 M441.7,1369.0 H455.7 M441.7,1411.0 H455.7"/>
<path d="M514.2,1397.0 V1442.0 M507.2,1397.0 H521.2 M507.2,1442.0 H521.2"/>
<path d="M578.7,1426.0 V1470.0 M571.7,1426.0 H585.7 M571.7,1470.0 H585.7"/>
<path d="M642.8,1470.9 V1500.1 M635.8,1470.9 H649.8 M635.8,1500.1 H649.8"/>
<path d="M707.8,1529.5 V1571.5 M700.8,1529.5 H714.8 M700.8,1571.5 H714.8"/>
<path d="M772.9,1564.1 V1595.1 M765.9,1564.1 H779.9 M765.9,1595.1 H779.9"/>
</g>
<path d="M188.5,1201.5 L302.6,1333.0 M302.6,1333.0 L415.9,1375.6 M415.9,1375.6 L530.6,1397.0 M530.6,1397.0 L642.8,1390.4 M642.8,1390.4 L756.6,1435.0 M756.6,1435.0 L870.6,1450.0 M870.6,1450.0 L982.9,1535.5" fill="none" stroke="#5B9BD5" stroke-width="2.5" stroke-dasharray="9 3.9"/>
<circle cx="188.5" cy="1201.5" r="9.1" fill="#5B9BD5"/>
<circle cx="302.6" cy="1333.0" r="9.1" fill="#5B9BD5"/>
<circle cx="415.9" cy="1375.6" r="9.1" fill="#5B9BD5"/>
<circle cx="530.6" cy="1397.0" r="9.1" fill="#5B9BD5"/>
<circle cx="642.8" cy="1390.4" r="9.1" fill="#5B9BD5"/>
<circle cx="756.6" cy="1435.0" r="9.1" fill="#5B9BD5"/>
<circle cx="870.6" cy="1450.0" r="9.1" fill="#5B9BD5"/>
<circle cx="982.9" cy="1535.5" r="9.1" fill="#5B9BD5"/>
<path d="M188.5,1201.5 L302.6,1319.5 M302.6,1319.5 L415.9,1333.0 M415.9,1333.0 L530.6,1370.0 M530.6,1370.0 L642.8,1361.6 M642.8,1361.6 L756.6,1427.5 M756.6,1427.5 L870.6,1420.0 M870.6,1420.0 L982.9,1485.4" fill="none" stroke="#F29A60" stroke-width="3.0" stroke-dasharray="0.01 6.29" stroke-linecap="round" stroke-dashoffset="-1.6"/>
<path d="M188.5,1192.8 L197.8,1210.2 L179.2,1210.2Z" fill="#ED7D31" stroke="#ED7D31" stroke-width="0.8" stroke-linejoin="round"/>
<path d="M302.6,1310.8 L311.9,1328.2 L293.3,1328.2Z" fill="#ED7D31" stroke="#ED7D31" stroke-width="0.8" stroke-linejoin="round"/>
<path d="M415.9,1324.3 L425.2,1341.7 L406.6,1341.7Z" fill="#ED7D31" stroke="#ED7D31" stroke-width="0.8" stroke-linejoin="round"/>
<path d="M530.6,1361.3 L539.9,1378.7 L521.3,1378.7Z" fill="#ED7D31" stroke="#ED7D31" stroke-width="0.8" stroke-linejoin="round"/>
<path d="M642.8,1352.9 L652.1,1370.3 L633.5,1370.3Z" fill="#ED7D31" stroke="#ED7D31" stroke-width="0.8" stroke-linejoin="round"/>
<path d="M756.6,1418.8 L765.9,1436.2 L747.3,1436.2Z" fill="#ED7D31" stroke="#ED7D31" stroke-width="0.8" stroke-linejoin="round"/>
<path d="M870.6,1411.3 L879.9,1428.7 L861.3,1428.7Z" fill="#ED7D31" stroke="#ED7D31" stroke-width="0.8" stroke-linejoin="round"/>
<path d="M982.9,1476.7 L992.2,1494.1 L973.6,1494.1Z" fill="#ED7D31" stroke="#ED7D31" stroke-width="0.8" stroke-linejoin="round"/>
<path d="M188.5,1201.5 L302.6,1260.4 M302.6,1260.4 L415.9,1275.4 M415.9,1275.4 L530.6,1334.0 M530.6,1334.0 L642.8,1318.4 M642.8,1318.4 L756.6,1347.5 M756.6,1347.5 L870.6,1362.4 M870.6,1362.4 L982.9,1434.4" fill="none" stroke="#b2b2b2" stroke-width="2.9" stroke-dasharray="11.5 10.5"/><path d="M188.5,1201.5 L302.6,1260.4 M302.6,1260.4 L415.9,1275.4 M415.9,1275.4 L530.6,1334.0 M530.6,1334.0 L642.8,1318.4 M642.8,1318.4 L756.6,1347.5 M756.6,1347.5 L870.6,1362.4 M870.6,1362.4 L982.9,1434.4" fill="none" stroke="#dedede" stroke-width="1.0" stroke-dasharray="11.5 10.5"/>
<rect x="179.0" y="1192.7" width="19.0" height="17.6" rx="1.2" fill="#A5A5A5" stroke="#8e8e8e" stroke-width="1.2"/><rect x="181.2" y="1194.9" width="14.6" height="13.2" fill="none" stroke="#b4b4b4" stroke-width="0.8"/>
<rect x="293.1" y="1251.6" width="19.0" height="17.6" rx="1.2" fill="#A5A5A5" stroke="#8e8e8e" stroke-width="1.2"/><rect x="295.3" y="1253.8" width="14.6" height="13.2" fill="none" stroke="#b4b4b4" stroke-width="0.8"/>
<rect x="406.4" y="1266.6" width="19.0" height="17.6" rx="1.2" fill="#A5A5A5" stroke="#8e8e8e" stroke-width="1.2"/><rect x="408.6" y="1268.8" width="14.6" height="13.2" fill="none" stroke="#b4b4b4" stroke-width="0.8"/>
<rect x="521.1" y="1325.2" width="19.0" height="17.6" rx="1.2" fill="#A5A5A5" stroke="#8e8e8e" stroke-width="1.2"/><rect x="523.3" y="1327.4" width="14.6" height="13.2" fill="none" stroke="#b4b4b4" stroke-width="0.8"/>
<rect x="633.3" y="1309.6" width="19.0" height="17.6" rx="1.2" fill="#A5A5A5" stroke="#8e8e8e" stroke-width="1.2"/><rect x="635.5" y="1311.8" width="14.6" height="13.2" fill="none" stroke="#b4b4b4" stroke-width="0.8"/>
<rect x="747.1" y="1338.7" width="19.0" height="17.6" rx="1.2" fill="#A5A5A5" stroke="#8e8e8e" stroke-width="1.2"/><rect x="749.3" y="1340.9" width="14.6" height="13.2" fill="none" stroke="#b4b4b4" stroke-width="0.8"/>
<rect x="861.1" y="1353.6" width="19.0" height="17.6" rx="1.2" fill="#A5A5A5" stroke="#8e8e8e" stroke-width="1.2"/><rect x="863.3" y="1355.8" width="14.6" height="13.2" fill="none" stroke="#b4b4b4" stroke-width="0.8"/>
<rect x="973.4" y="1425.6" width="19.0" height="17.6" rx="1.2" fill="#A5A5A5" stroke="#8e8e8e" stroke-width="1.2"/><rect x="975.6" y="1427.8" width="14.6" height="13.2" fill="none" stroke="#b4b4b4" stroke-width="0.8"/>
<path d="M188.5,1201.5 L254.3,1260.4 M254.3,1260.4 L318.8,1318.6 M318.8,1318.6 L383.5,1332.4 M383.5,1332.4 L448.7,1390.0 M448.7,1390.0 L514.2,1419.5 M514.2,1419.5 L578.7,1448.0 M578.7,1448.0 L642.8,1485.5 M642.8,1485.5 L707.8,1550.5 M707.8,1550.5 L772.9,1579.6" fill="none" stroke="#FFC000" stroke-width="2.5" stroke-dasharray="11 8 3 10"/>
<path d="M181.1,1194.1 L195.9,1208.9 M195.9,1194.1 L181.1,1208.9 M188.5,1194.3 L188.5,1208.7" stroke="#FFC000" stroke-width="4.4" stroke-linecap="round" fill="none"/>
<path d="M246.9,1253.0 L261.7,1267.8 M261.7,1253.0 L246.9,1267.8 M254.3,1253.2 L254.3,1267.6" stroke="#FFC000" stroke-width="2.6" stroke-linecap="round" fill="none"/>
<path d="M311.4,1311.2 L326.2,1326.0 M326.2,1311.2 L311.4,1326.0 M318.8,1311.4 L318.8,1325.8" stroke="#FFC000" stroke-width="2.6" stroke-linecap="round" fill="none"/>
<path d="M376.1,1325.0 L390.9,1339.8 M390.9,1325.0 L376.1,1339.8 M383.5,1325.2 L383.5,1339.6" stroke="#FFC000" stroke-width="2.6" stroke-linecap="round" fill="none"/>
<path d="M441.3,1382.6 L456.1,1397.4 M456.1,1382.6 L441.3,1397.4 M448.7,1382.8 L448.7,1397.2" stroke="#FFC000" stroke-width="2.6" stroke-linecap="round" fill="none"/>
<path d="M506.8,1412.1 L521.6,1426.9 M521.6,1412.1 L506.8,1426.9 M514.2,1412.3 L514.2,1426.7" stroke="#FFC000" stroke-width="2.6" stroke-linecap="round" fill="none"/>
<path d="M571.3,1440.6 L586.1,1455.4 M586.1,1440.6 L571.3,1455.4 M578.7,1440.8 L578.7,1455.2" stroke="#FFC000" stroke-width="2.6" stroke-linecap="round" fill="none"/>
<path d="M635.4,1478.1 L650.2,1492.9 M650.2,1478.1 L635.4,1492.9 M642.8,1478.3 L642.8,1492.7" stroke="#FFC000" stroke-width="2.6" stroke-linecap="round" fill="none"/>
<path d="M700.4,1543.1 L715.2,1557.9 M715.2,1543.1 L700.4,1557.9 M707.8,1543.3 L707.8,1557.7" stroke="#FFC000" stroke-width="2.6" stroke-linecap="round" fill="none"/>
<path d="M765.5,1572.2 L780.3,1587.0 M780.3,1572.2 L765.5,1587.0 M772.9,1572.4 L772.9,1586.8" stroke="#FFC000" stroke-width="2.6" stroke-linecap="round" fill="none"/>
<path d="M846.1,1172.0 H906.1" fill="none" stroke="#5B9BD5" stroke-width="2.5" stroke-dasharray="9 3.9"/>
<circle cx="879.3" cy="1172.0" r="9.1" fill="#5B9BD5"/>
<g font-family="Liberation Sans, sans-serif" fill="#1e1e1e" stroke="#1e1e1e" stroke-width="0.4"><text x="920.6 930.6 945.2" y="1181.9" font-size="25">-20</text><text x="957.6" y="1175.1" font-size="24" stroke-width="0.2">°</text><text transform="translate(964.4,1182.3) scale(0.89,1)" font-size="29.8">C</text></g>
<path d="M846.1,1207.2 H906.1" fill="none" stroke="#F29A60" stroke-width="3.0" stroke-dasharray="0.01 6.29" stroke-linecap="round" stroke-dashoffset="-1.6"/>
<path d="M879.3,1198.5 L888.6,1215.9 L870.0,1215.9Z" fill="#ED7D31" stroke="#ED7D31" stroke-width="0.8" stroke-linejoin="round"/>
<g font-family="Liberation Sans, sans-serif" fill="#1e1e1e" stroke="#1e1e1e" stroke-width="0.4"><text x="920.6 930.6 945.2" y="1217.1" font-size="25">-40</text><text x="957.6" y="1210.3" font-size="24" stroke-width="0.2">°</text><text transform="translate(964.4,1217.5) scale(0.89,1)" font-size="29.8">C</text></g>
<path d="M846.1,1242.7 H906.1" fill="none" stroke="#b2b2b2" stroke-width="2.9" stroke-dasharray="11.5 10.5"/><path d="M846.1,1242.7 H906.1" fill="none" stroke="#dedede" stroke-width="1.0" stroke-dasharray="11.5 10.5"/>
<rect x="869.8" y="1233.9" width="19.0" height="17.6" rx="1.2" fill="#A5A5A5" stroke="#8e8e8e" stroke-width="1.2"/><rect x="872.0" y="1236.1" width="14.6" height="13.2" fill="none" stroke="#b4b4b4" stroke-width="0.8"/>
<g font-family="Liberation Sans, sans-serif" fill="#1e1e1e" stroke="#1e1e1e" stroke-width="0.4"><text x="920.6 930.6 945.2" y="1252.6" font-size="25">-80</text><text x="957.6" y="1245.8" font-size="24" stroke-width="0.2">°</text><text transform="translate(964.4,1253.0) scale(0.89,1)" font-size="29.8">C</text></g>
<path d="M846.1,1277.8 H906.1" fill="none" stroke="#FFC000" stroke-width="2.5" stroke-dasharray="11.5 10.3 3.4 9.3"/>
<path d="M871.9,1270.4 L886.7,1285.2 M886.7,1270.4 L871.9,1285.2 M879.3,1270.6 L879.3,1285.0" stroke="#FFC000" stroke-width="2.6" stroke-linecap="round" fill="none"/>
<g font-family="Liberation Sans, sans-serif" fill="#1e1e1e" stroke="#1e1e1e" stroke-width="0.4"><text x="920.6 930.6" y="1287.7" font-size="25">-5</text><text x="943.0" y="1280.9" font-size="24" stroke-width="0.2">°</text><text transform="translate(949.8,1288.1) scale(0.89,1)" font-size="29.8">C</text></g>
</g></svg></body></html>
